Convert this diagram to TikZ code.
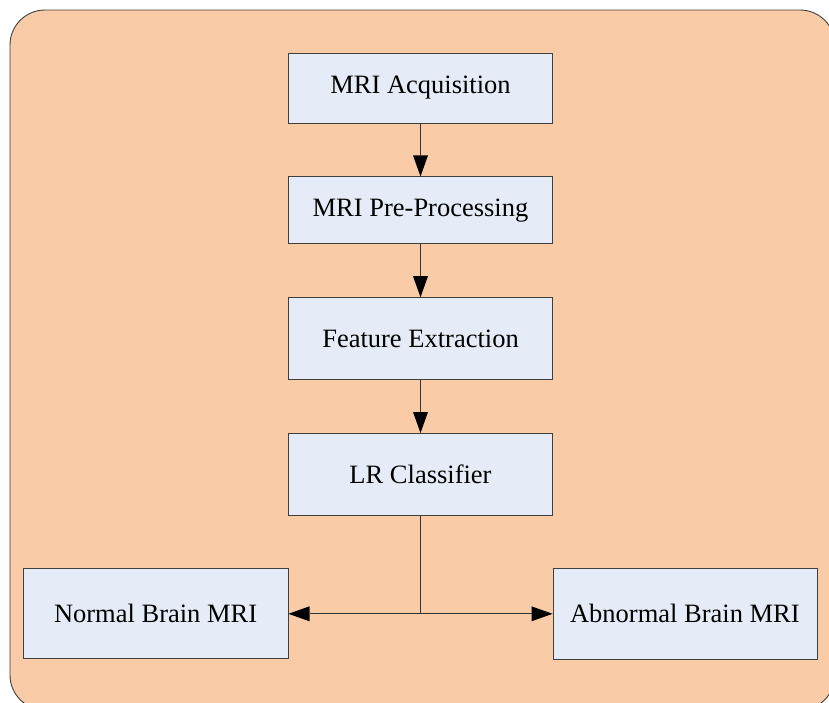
\documentclass[tikz,border=0pt]{standalone}
\usepackage{fontspec}
\setmainfont{Liberation Serif}
\usepackage{tikz}
\usetikzlibrary{positioning, arrows.meta}
\definecolor{peach}{HTML}{F9CBA7}
\definecolor{boxblue}{HTML}{E6ECF7}
\tikzset{
    x=1pt, y=1pt, % one unit per pixel of the reference
    stagebox/.style={draw=black!75, line width=0.8pt, fill=boxblue, minimum width=264pt, font=\fontsize{26.5}{31}\selectfont}, % sets the properties for each box
    node distance=53pt, % gap between two boxes
    flow/.style={draw=black!80, line width=0.9pt, -{Triangle[length=21pt,width=15pt,fill=black,line width=0pt]}}, % arrows between the boxes
}
\begin{document}
\begin{tikzpicture}
                  \useasboundingbox (0,0) rectangle (829,-702);
                  \clip (0,0) rectangle (829,-702);
                  \draw[fill=peach, draw=black!75, line width=0.9pt, rounded corners=35pt] (10,-10) rectangle (835,-710);
                  \node[stagebox, minimum height=70pt] (acq) at (420.5,-88) {MRI Acquisition};
                  \node[stagebox, minimum height=67pt, below=of acq] (pre) {MRI Pre-Processing};
                  \node[stagebox, minimum height=82pt, below=of pre] (feat) {Feature Extraction};
                  \node[stagebox, minimum height=82pt, below=of feat] (lr) {LR Classifier};
                  \coordinate[below=98pt of lr] (split);
                  \node[stagebox, minimum width=265pt, minimum height=90pt, left=132pt of split] (normal) {Normal Brain MRI};
                  \node[stagebox, minimum width=264pt, minimum height=91pt, right=132pt of split] (abnormal) {Abnormal Brain MRI};
                  \draw[flow] (acq) -- (pre);
                  \draw[flow] (pre) -- (feat);
                  \draw[flow] (feat) -- (lr);
                  \draw[draw=black!80, line width=0.9pt] (lr) -- (split);
                  \draw[flow] (split) -- (normal);
                  \draw[flow] (split) -- (abnormal);
              \end{tikzpicture}
\end{document}
